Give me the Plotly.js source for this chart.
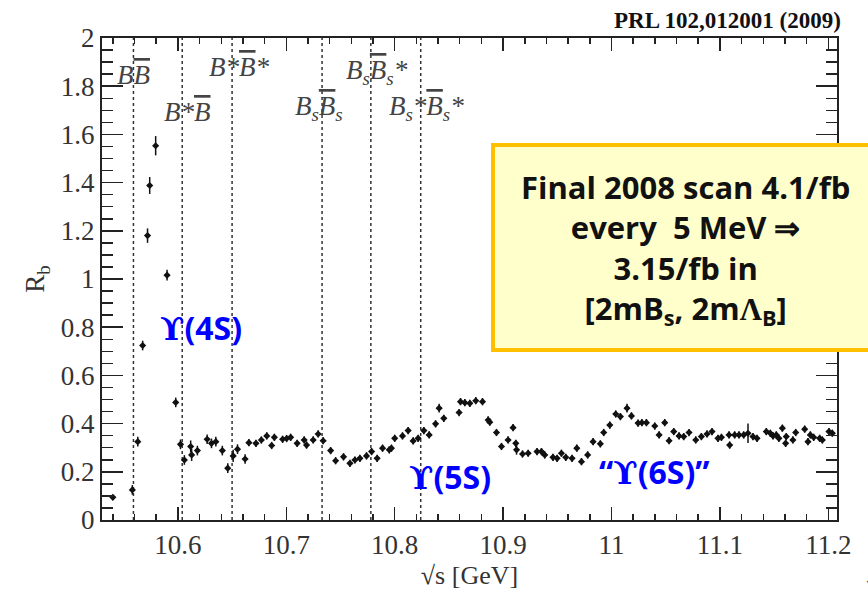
<!DOCTYPE html>
<html>
<head>
<meta charset="utf-8">
<script src="https://cdn.plot.ly/plotly-3.0.1.min.js"></script>
<style>
  html, body { margin: 0; padding: 0; background: #ffffff; }
  #chart { width: 868px; height: 592px; }
</style>
</head>
<body>
<div id="chart"></div>
<script>
// Centre-of-mass energy of each scan point, GeV
const sqrtS = [
  10.540, 10.558, 10.563, 10.5675, 10.572, 10.574, 10.5795, 10.590, 10.598, 10.6024,
  10.606, 10.6118, 10.6127, 10.618, 10.627, 10.631, 10.635, 10.641, 10.646, 10.651,
  10.655, 10.662, 10.6655, 10.672, 10.677, 10.682, 10.6865, 10.689, 10.6966, 10.7003,
  10.704, 10.710, 10.7165, 10.7187, 10.7248, 10.7294, 10.734, 10.7409, 10.7455, 10.7528,
  10.7587, 10.7633, 10.7679, 10.774, 10.7787, 10.7838, 10.7888, 10.795, 10.797, 10.800,
  10.8072, 10.8124, 10.817, 10.8216, 10.8269, 10.8318, 10.8377, 10.841, 10.8453, 10.8594,
  10.8607, 10.8647, 10.8693, 10.8748, 10.881, 10.8862, 10.8877, 10.8939, 10.8985, 10.9046,
  10.9092, 10.9117, 10.9124, 10.9179, 10.9231, 10.9313, 10.9354, 10.9384, 10.946, 10.9498,
  10.9538, 10.9578, 10.9636, 10.968, 10.9723, 10.978, 10.983, 10.9897, 10.9928, 10.9984,
  11.0039, 11.0082, 11.0143, 11.0184, 11.0245, 11.028, 11.0322, 11.0399, 11.0439, 11.0491,
  11.0531, 11.0574, 11.0623, 11.0666, 11.0715, 11.0777, 11.0829, 11.0881, 11.0927, 11.0982,
  11.1014, 11.1084, 11.109, 11.1136, 11.1176, 11.1219, 11.1259, 11.1305, 11.1342, 11.1428,
  11.1465, 11.149, 11.152, 11.1544, 11.1576, 11.1606, 11.1612, 11.1673, 11.1699, 11.1782,
  11.1812, 11.1834, 11.1865, 11.192, 11.1945, 11.2006, 11.2037
];

// Measured R_b at each point
const rb = [
  0.094, 0.125, 0.325, 0.724, 1.180, 1.388, 1.553, 1.016, 0.488, 0.314,
  0.249, 0.305, 0.270, 0.288, 0.335, 0.318, 0.325, 0.288, 0.215, 0.266,
  0.294, 0.253, 0.321, 0.318, 0.332, 0.349, 0.309, 0.343, 0.335, 0.338,
  0.343, 0.318, 0.332, 0.311, 0.332, 0.357, 0.329, 0.288, 0.246, 0.262,
  0.235, 0.249, 0.256, 0.266, 0.284, 0.256, 0.298, 0.291, 0.298, 0.339,
  0.349, 0.371, 0.328, 0.339, 0.371, 0.353, 0.399, 0.464, 0.422, 0.446,
  0.491, 0.487, 0.484, 0.495, 0.491, 0.415, 0.406, 0.363, 0.305, 0.332,
  0.383, 0.318, 0.291, 0.274, 0.277, 0.284, 0.284, 0.270, 0.260, 0.256,
  0.277, 0.260, 0.256, 0.298, 0.242, 0.270, 0.325, 0.316, 0.363, 0.394,
  0.440, 0.429, 0.464, 0.432, 0.402, 0.404, 0.404, 0.390, 0.353, 0.404,
  0.329, 0.367, 0.349, 0.346, 0.363, 0.332, 0.346, 0.357, 0.367, 0.339,
  0.343, 0.353, 0.311, 0.353, 0.353, 0.353, 0.360, 0.346, 0.339, 0.367,
  0.360, 0.349, 0.353, 0.339, 0.381, 0.318, 0.346, 0.332, 0.363, 0.377,
  0.325, 0.353, 0.343, 0.339, 0.332, 0.367, 0.360
];

// Statistical uncertainty on R_b
const rbErr = [
  0.010, 0.020, 0.020, 0.020, 0.030, 0.035, 0.040, 0.022, 0.020, 0.020,
  0.020, 0.025, 0.025, 0.020, 0.020, 0.020, 0.020, 0.020, 0.020, 0.025,
  0.020, 0.020, 0.015, 0.015, 0.015, 0.015, 0.015, 0.015, 0.015, 0.015,
  0.015, 0.015, 0.015, 0.015, 0.015, 0.015, 0.015, 0.015, 0.015, 0.015,
  0.015, 0.015, 0.015, 0.015, 0.015, 0.015, 0.015, 0.015, 0.015, 0.015,
  0.015, 0.015, 0.015, 0.015, 0.015, 0.015, 0.015, 0.018, 0.015, 0.015,
  0.015, 0.015, 0.015, 0.015, 0.015, 0.015, 0.015, 0.015, 0.015, 0.015,
  0.015, 0.015, 0.020, 0.015, 0.015, 0.015, 0.015, 0.015, 0.015, 0.015,
  0.015, 0.015, 0.015, 0.015, 0.015, 0.015, 0.015, 0.015, 0.015, 0.015,
  0.015, 0.015, 0.018, 0.015, 0.015, 0.015, 0.015, 0.015, 0.015, 0.015,
  0.015, 0.015, 0.015, 0.015, 0.015, 0.015, 0.015, 0.015, 0.015, 0.015,
  0.015, 0.015, 0.015, 0.015, 0.015, 0.015, 0.040, 0.015, 0.015, 0.015,
  0.015, 0.015, 0.015, 0.015, 0.015, 0.015, 0.015, 0.015, 0.015, 0.015,
  0.015, 0.015, 0.015, 0.015, 0.015, 0.015, 0.015
];

// Open-flavour production thresholds (GeV) and their labels
const thresholds = [10.559, 10.604, 10.650, 10.733, 10.778, 10.824];
const ob = '<span style="text-decoration:overline">B</span>';
const thresholdLabels = [
  'B' + ob,
  'B*' + ob,
  'B*' + ob + '*',
  'B<sub>s</sub>' + ob + '<sub>s</sub>',
  'B<sub>s</sub>' + ob + '<sub>s</sub>*',
  'B<sub>s</sub>*' + ob + '<sub>s</sub>*'
];
const thresholdLabelPos = [
  [10.5588, 1.848], [10.6085, 1.694], [10.6570, 1.881],
  [10.7300, 1.711], [10.7835, 1.860], [10.8297, 1.711]
];

// Resonance labels
const ups = '<span style="font-family:DejaVu Serif">ϒ</span>';
const resonanceLabels = [ups + '(4S)', ups + '(5S)', '“' + ups + '(6S)”'];
const resonancePos = [[10.6213, 0.797], [10.8509, 0.179], [11.0399, 0.203]];

const serif = '"Liberation Serif", "Times New Roman", serif';
const sans = '"Open Sans", "Noto Sans", sans-serif';

const trace = {
  type: 'scatter',
  mode: 'markers',
  x: sqrtS,
  y: rb,
  marker: { symbol: 'diamond', size: 5.5, color: '#111' },
  error_y: { type: 'data', array: rbErr, visible: true, thickness: 1.5, width: 0, color: '#111' },
  error_x: { type: 'constant', value: 0.0022, visible: true, thickness: 1.5, width: 0, color: '#111' },
  hoverinfo: 'x+y'
};

const shapes = thresholds.map(t => ({
  type: 'line', xref: 'x', yref: 'paper', x0: t, x1: t, y0: 0, y1: 1,
  line: { color: '#333', width: 1.5, dash: 'dot' }, layer: 'below'
}));

// Highlighted note box
shapes.push({
  type: 'rect', xref: 'paper', yref: 'paper',
  x0: 0.532, x1: 1.10, y0: 0.3527, y1: 0.778,
  fillcolor: '#FFFFCC', line: { color: '#FFC000', width: 4 }, layer: 'above'
});

const annotations = [];
thresholdLabels.forEach((txt, i) => {
  annotations.push({
    xref: 'x', yref: 'y', x: thresholdLabelPos[i][0], y: thresholdLabelPos[i][1],
    text: '<i>' + txt + '</i>', showarrow: false, xanchor: 'center', yanchor: 'middle',
    font: { family: serif, size: 27, color: '#444' }
  });
});
resonanceLabels.forEach((txt, i) => {
  annotations.push({
    xref: 'x', yref: 'y', x: resonancePos[i][0], y: resonancePos[i][1],
    text: '<b>' + txt + '</b>', showarrow: false, xanchor: 'center', yanchor: 'middle',
    font: { family: sans, size: 32, color: '#0000FF' }
  });
});
annotations.push({
  xref: 'paper', yref: 'paper', x: 0.7932, y: 0.562,
  text: '<b>Final 2008 scan 4.1/fb<br>every\u00a0 5 MeV ⇒<br>3.15/fb in<br>[2mB<sub>s</sub>, 2m<span style="font-family:Liberation Serif">Λ</span><sub>B</sub>]</b>',
  showarrow: false, xanchor: 'center', yanchor: 'middle', align: 'center',
  font: { family: sans, size: 31, color: '#111' }
});
annotations.push({
  xref: 'paper', yref: 'paper', x: 1.008, y: 1.037,
  text: '<b>PRL 102,012001 (2009)</b>', showarrow: false, xanchor: 'right', yanchor: 'middle',
  font: { family: serif, size: 23, color: '#111' }
});
annotations.push({
  xref: 'paper', yref: 'paper', x: 1.035, y: -0.135,
  text: '1', showarrow: false, xanchor: 'left', yanchor: 'middle',
  font: { family: sans, size: 18, color: '#555' }
});

const layout = {
  width: 868, height: 592,
  margin: { l: 102, r: 31, t: 38, b: 72 },
  paper_bgcolor: '#ffffff', plot_bgcolor: '#ffffff',
  showlegend: false,
  xaxis: {
    range: [10.53, 11.208], dtick: 0.1, tick0: 10.6,
    ticks: 'inside', ticklen: 13, tickwidth: 1.5, tickcolor: '#222',
    minor: { dtick: 0.02, ticks: 'inside', ticklen: 6, tickwidth: 1.5, tickcolor: '#222' },
    showline: true, linecolor: '#222', linewidth: 2, mirror: 'ticks',
    showgrid: false, zeroline: false,
    tickfont: { family: serif, size: 27, color: '#333' },
    title: { text: '√s [GeV]', font: { family: serif, size: 26, color: '#333' }, standoff: 6 }
  },
  yaxis: {
    range: [0, 2], dtick: 0.2, tick0: 0,
    ticks: 'inside', ticklen: 21, tickwidth: 1.5, tickcolor: '#222',
    minor: { dtick: 0.05, ticks: 'inside', ticklen: 11, tickwidth: 1.5, tickcolor: '#222' },
    showline: true, linecolor: '#222', linewidth: 2, mirror: 'ticks',
    showgrid: false, zeroline: false,
    tickfont: { family: serif, size: 27, color: '#333' },
    title: { text: 'R<sub>b</sub>', font: { family: serif, size: 27, color: '#333' }, standoff: 8 }
  },
  shapes: shapes,
  annotations: annotations
};

Plotly.newPlot('chart', [trace], layout, { displayModeBar: false, staticPlot: true });
</script>
</body>
</html>
